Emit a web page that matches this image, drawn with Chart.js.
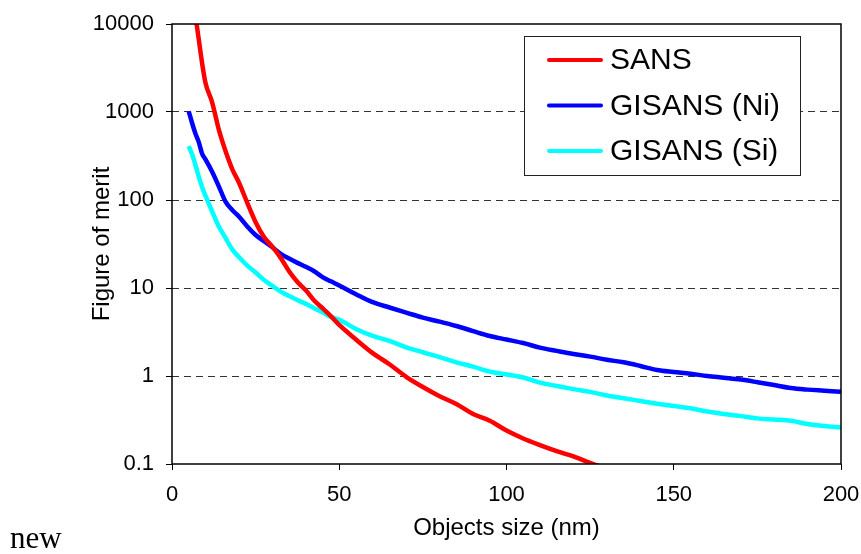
<!DOCTYPE html>
<html>
<head>
<meta charset="utf-8">
<script src="https://cdn.jsdelivr.net/npm/chart.js@4.4.1/dist/chart.umd.min.js"></script>
<style>
  html, body { margin: 0; padding: 0; background: #ffffff; }
  #wrap { position: relative; width: 861px; height: 554px; }
  #main-chart { position: absolute; left: 0; top: 0; }
  #note { position: absolute; left: 10px; top: 522px; font-family: "Liberation Serif", "DejaVu Serif", serif; font-size: 31px; line-height: 31px; color: #000; }
</style>
</head>
<body>
<div id="wrap">
  <canvas id="main-chart" width="861" height="554"></canvas>
  <div id="note">new</div>
</div>
<script>
// object size in nm (shared x values)
const sizes = [5, 6, 7, 8, 9, 10, 12, 14, 16, 18, 20, 22.5, 25, 27.5, 30, 32.5, 35, 37.5, 40, 42.5, 45, 47.5, 50,
    55, 60, 65, 70, 75, 80, 85, 90, 95, 100, 105, 110, 115, 120, 125, 130, 135, 140, 145, 150,
    155, 160, 165, 170, 175, 180, 185, 190, 195, 200];

// figure of merit
const sans = [60000, 25000, 12500, 6700, 3600, 2150, 1290, 630, 360, 225, 158, 93, 56, 38, 29.5, 22, 15.5, 11.7, 9.4, 7.2, 5.9, 4.8, 3.8,
    2.6, 1.82, 1.36, 0.98, 0.75, 0.59, 0.48, 0.37, 0.31, 0.24, 0.195, 0.164, 0.14, 0.122, 0.103, 0.088];

const gisans_ni = [1020, 750, 570, 455, 335, 290, 210, 143, 96, 77, 65, 50, 40, 34, 29, 24.5, 21.6, 19.3, 17.4, 15.5, 13.3, 11.9, 10.7,
    8.5, 6.9, 6.0, 5.25, 4.6, 4.15, 3.7, 3.24, 2.85, 2.6, 2.37, 2.1, 1.93, 1.78, 1.66, 1.53, 1.43, 1.3, 1.17, 1.11,
    1.06, 1.0, 0.955, 0.91, 0.85, 0.79, 0.73, 0.70, 0.68, 0.66];

const gisans_si = [410, 330, 250, 185, 140, 112, 74, 50, 37, 27.5, 22.5, 18, 15, 12.3, 10.6, 9.1, 8.1, 7.3, 6.6, 5.9, 5.3, 4.7, 4.35,
    3.42, 2.85, 2.5, 2.12, 1.86, 1.64, 1.43, 1.28, 1.12, 1.04, 0.96, 0.84, 0.77, 0.71, 0.66, 0.6, 0.56, 0.52, 0.485, 0.455,
    0.43, 0.395, 0.37, 0.35, 0.33, 0.32, 0.31, 0.285, 0.27, 0.26];

const series_names = ["SANS", "GISANS (Ni)", "GISANS (Si)"];
const series_colors = ["#ff0000", "#0000ff", "#00ffff"];

const y_ticks = [0.1, 1, 10, 100, 1000, 10000];
const x_ticks = [0, 50, 100, 150, 200];

const font_name = "'Liberation Sans', Arial, sans-serif";

function toPoints(values)
{
    let pts = [];
    for(let i = 0; i < values.length; i++)
        pts.push({x: sizes[i], y: values[i]});
    return pts;
}

const all_values = [sans, gisans_ni, gisans_si];
const datasets = [];
for(let i = 0; i < all_values.length; i++)
{
    datasets.push({
        label: series_names[i],
        data: toPoints(all_values[i]),
        borderColor: series_colors[i],
        backgroundColor: series_colors[i],
        borderWidth: 4.5,
        pointRadius: 0,
        cubicInterpolationMode: 'monotone',
        clip: 0
    });
}

// frame around the plot area + boxed legend inside it
const frame_and_legend = {
    id: 'frameAndLegend',
    afterDraw(chart) {
        const ctx = chart.ctx;
        const a = chart.chartArea;
        ctx.save();
        ctx.strokeStyle = "#000000";
        ctx.lineWidth = 1.5;
        ctx.setLineDash([]);
        ctx.strokeRect(a.left, a.top, a.right - a.left, a.bottom - a.top);

        const bx = 524, by = 36, bw = 276, bh = 139;
        ctx.fillStyle = "#ffffff";
        ctx.fillRect(bx, by, bw, bh);
        ctx.lineWidth = 1;
        ctx.strokeStyle = "#222222";
        ctx.strokeRect(bx + 0.5, by + 0.5, bw, bh);

        ctx.font = "30px " + font_name;
        ctx.textBaseline = "middle";
        ctx.textAlign = "left";
        chart.data.datasets.forEach((ds, i) => {
            const y = 60 + i * 45.5;
            ctx.strokeStyle = ds.borderColor;
            ctx.lineWidth = 4;
            ctx.lineCap = "round";
            ctx.beginPath();
            ctx.moveTo(549, y);
            ctx.lineTo(601, y);
            ctx.stroke();
            ctx.fillStyle = "#000000";
            ctx.fillText(ds.label, 610, y + 1);
        });
        ctx.restore();
    }
};

const config = {
    type: 'line',
    data: { datasets: datasets },
    options: {
        responsive: false,
        animation: false,
        layout: { padding: { left: 0, top: 24, right: 20, bottom: 0 } },
        plugins: {
            legend: { display: false },
            tooltip: { enabled: false }
        },
        scales: {
            x: {
                type: 'linear',
                min: 0,
                max: 200,
                afterBuildTicks: (scale) => { scale.ticks = x_ticks.map(v => ({value: v})); },
                afterFit: (scale) => {
                    scale.height = 90;
                    scale.paddingLeft = 0;
                    scale.paddingRight = 0;
                },
                grid: {
                    drawOnChartArea: false,
                    drawTicks: true,
                    tickLength: 6,
                    tickColor: "#000000",
                    tickWidth: 1
                },
                border: { display: false },
                ticks: {
                    color: "#000000",
                    padding: 12,
                    maxRotation: 0,
                    font: { family: font_name, size: 22 }
                },
                title: {
                    display: true,
                    text: "Objects size (nm)",
                    color: "#000000",
                    font: { family: font_name, size: 24 },
                    padding: { top: 0, bottom: 11 }
                }
            },
            y: {
                type: 'logarithmic',
                min: 0.1,
                max: 10000,
                afterBuildTicks: (scale) => { scale.ticks = y_ticks.map(v => ({value: v})); },
                afterFit: (scale) => {
                    scale.width = 172;
                    scale.paddingTop = 0;
                    scale.paddingBottom = 0;
                },
                grid: {
                    color: (c) => (c.tick && (c.tick.value === 10000 || c.tick.value === 0.1)) ? "rgba(0,0,0,0)" : "#333333",
                    lineWidth: 1,
                    drawTicks: true,
                    tickLength: 6,
                    tickColor: "#000000",
                    tickWidth: 1,
                    tickBorderDash: []
                },
                border: { display: false, dash: [7, 5] },
                ticks: {
                    color: "#000000",
                    padding: 12,
                    font: { family: font_name, size: 22 },
                    callback: (v) => String(v)
                },
                title: {
                    display: true,
                    text: "Figure of merit",
                    color: "#000000",
                    font: { family: font_name, size: 24 },
                    padding: { top: 88, bottom: 0 }
                }
            }
        }
    },
    plugins: [frame_and_legend]
};

const main_chart = new Chart(document.getElementById("main-chart").getContext('2d'), config);
</script>
</body>
</html>
